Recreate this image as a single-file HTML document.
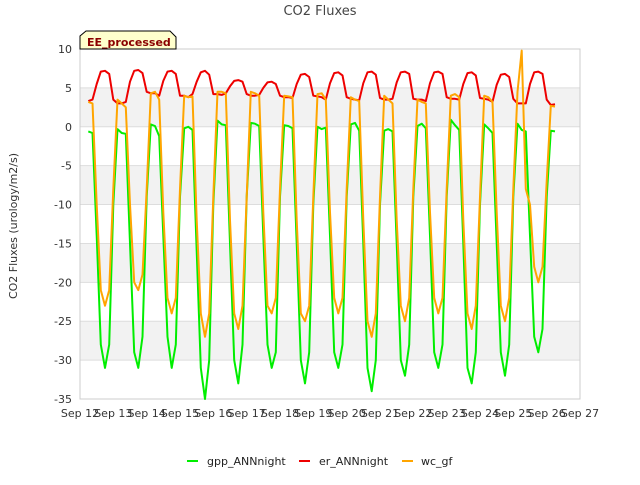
<!DOCTYPE html>
<html><head><meta charset="utf-8"><style>
body{margin:0;background:#fff;font-family:"Liberation Sans","DejaVu Sans",sans-serif;}
svg text{font-family:"DejaVu Sans","Liberation Sans",sans-serif;}
</style></head><body>
<svg id="chart" width="640" height="480" xmlns="http://www.w3.org/2000/svg">
<rect width="640" height="480" fill="#fff"/>
<g id="bands"></g><g id="grid"></g>
<rect x="80" y="49" width="500" height="350" fill="none" stroke="#ccc"/>
<g id="series"></g><g id="axes"></g>
<text x="320" y="15" text-anchor="middle" font-size="13" fill="#444">CO2 Fluxes</text>
<text transform="translate(17,226) rotate(-90)" text-anchor="middle" font-size="11" fill="#333">CO2 Fluxes (urology/m2/s)</text>
<g>
<path d="M80,49 L80,36 L86,31 L170,31 L176,37 L176,49 Z" fill="#ffffcc" stroke="#000"/>
<text x="87" y="46" font-size="11" font-weight="bold" fill="#8b0000">EE_processed</text></g>
<g id="legend"></g>
</svg>
<script>
const dayLabels=["Sep 12","Sep 13","Sep 14","Sep 15","Sep 16","Sep 17","Sep 18","Sep 19","Sep 20","Sep 21","Sep 22","Sep 23","Sep 24","Sep 25","Sep 26","Sep 27"];
const yTicks=[10,5,0,-5,-10,-15,-20,-25,-30,-35];
const startDay=0.25, stepDay=0.125;
const gpp=[
-0.6,-0.8,-14,-28,-31,-28,-10,-0.3,
-0.8,-0.9,-15,-29,-31,-27,-9,0.3,
0.1,-1.2,-14,-27,-31,-28,-9,-0.2,
0.0,-0.4,-16,-31,-35,-30,-10,0.8,
0.3,0.2,-15,-30,-33,-28,-9,0.5,
0.4,0.1,-14,-28,-31,-29,-9,0.2,
0.1,-0.2,-15,-30,-33,-29,-10,0.0,
-0.3,-0.1,-14,-29,-31,-28,-9,0.3,
0.5,-0.5,-15,-31,-34,-30,-10,-0.5,
-0.3,-0.6,-15,-30,-32,-28,-9,0.1,
0.4,-0.2,-14,-29,-31,-28,-9,0.9,
0.2,-0.4,-15,-31,-33,-29,-10,0.3,
-0.2,-0.8,-15,-29,-32,-28,-9,0.4,
-0.4,-0.6,-14,-27,-29,-26,-9,-0.5,
-0.6];
const er=[
3.3,3.5,5.5,7.1,7.2,6.8,3.5,3.0,
3.0,3.2,5.8,7.2,7.3,6.9,4.5,4.3,
4.3,4.0,5.9,7.1,7.2,6.8,4.0,4.0,
3.8,4.2,5.8,7.0,7.2,6.7,4.2,4.2,
4.1,4.3,5.2,5.9,6.0,5.8,4.2,4.0,
4.0,4.1,5.0,5.7,5.8,5.5,4.0,3.8,
3.8,3.7,5.5,6.7,6.8,6.4,4.0,3.9,
3.8,3.5,5.6,6.9,7.0,6.6,3.8,3.6,
3.5,3.4,5.6,7.0,7.1,6.7,3.7,3.5,
3.5,3.6,5.7,7.0,7.1,6.8,3.6,3.5,
3.5,3.3,5.6,7.0,7.1,6.8,3.8,3.6,
3.6,3.5,5.5,6.9,7.0,6.6,3.7,3.6,
3.5,3.2,5.4,6.7,6.8,6.4,3.6,3.0,
3.0,3.0,5.5,7.0,7.1,6.8,3.5,2.8,
2.9];
const wc=[
3.2,3.0,-10,-21,-23,-21,-8,3.5,
3.0,2.5,-10,-20,-21,-19,-8,4.3,
4.5,3.5,-11,-22,-24,-22,-8,4.0,
3.8,3.9,-12,-24,-27,-24,-9,4.5,
4.5,4.3,-12,-24,-26,-23,-9,4.5,
4.3,4.0,-11,-23,-24,-22,-8,4.0,
3.9,3.8,-12,-24,-25,-23,-9,4.2,
4.3,3.5,-11,-22,-24,-22,-8,3.8,
3.5,3.3,-12,-25,-27,-24,-9,4.0,
3.5,3.0,-12,-23,-25,-22,-8,3.5,
3.2,3.0,-11,-22,-24,-22,-8,4.0,
4.2,3.8,-12,-24,-26,-23,-9,4.0,
3.8,3.2,-11,-23,-25,-22,-8,4.5,
9.8,-8,-10,-18,-20,-18,-7,2.7,
2.6];
const X0=80,X1=580,Y0=49,Y1=399;
const xs=d=>X0+(X1-X0)*d/15;
const ys=v=>Y0+(10-v)*(Y1-Y0)/45;
const NS="http://www.w3.org/2000/svg";
function mk(tag,attrs,parent){const e=document.createElementNS(NS,tag);for(const k in attrs)e.setAttribute(k,attrs[k]);parent.appendChild(e);return e;}
const bands=document.getElementById('bands'),grid=document.getElementById('grid'),axes=document.getElementById('axes'),series=document.getElementById('series'),legend=document.getElementById('legend');
for(let v=5;v>-35;v-=10){const r=mk('rect',{x:X0,y:ys(v),width:X1-X0,height:ys(v-5)-ys(v),fill:'#f2f2f2'},bands);

}
yTicks.forEach(v=>{const l=mk('line',{x1:X0,x2:X1,y1:ys(v),y2:ys(v),stroke:'#ddd'},grid);


const t=mk('text',{x:X0-8,y:ys(v)+4,'text-anchor':'end','font-size':'11',fill:'#333'},axes);t.textContent=v;

});
dayLabels.forEach((s,i)=>{const t=mk('text',{x:xs(i),y:Y1+18,'text-anchor':'middle','font-size':'11',fill:'#333'},axes);t.textContent=s;

});
function line(arr,color,name){const pts=arr.map((v,i)=>xs(startDay+i*stepDay).toFixed(1)+','+ys(v).toFixed(1)).join(' ');
const p=mk('polyline',{points:pts,fill:'none',stroke:color,'stroke-width':'2','stroke-linejoin':'round'},series);

}
line(gpp,'#00ee00','gpp-annnight-line');line(er,'#ee0000','er-annnight-line');line(wc,'#ffa500','wc-gf-line');
[['gpp_ANNnight','#00ee00',187,207],['er_ANNnight','#ee0000',299,319],['wc_gf','#ffa500',402,421]].forEach(([n,c,x,tx])=>{
const g=mk('g',{},legend);


mk('line',{x1:x,x2:x+11,y1:461,y2:461,stroke:c,'stroke-width':'2'},g);
const t=mk('text',{x:tx,y:465,'font-size':'11',fill:'#222'},g);t.textContent=n;});
</script>
</body></html>
